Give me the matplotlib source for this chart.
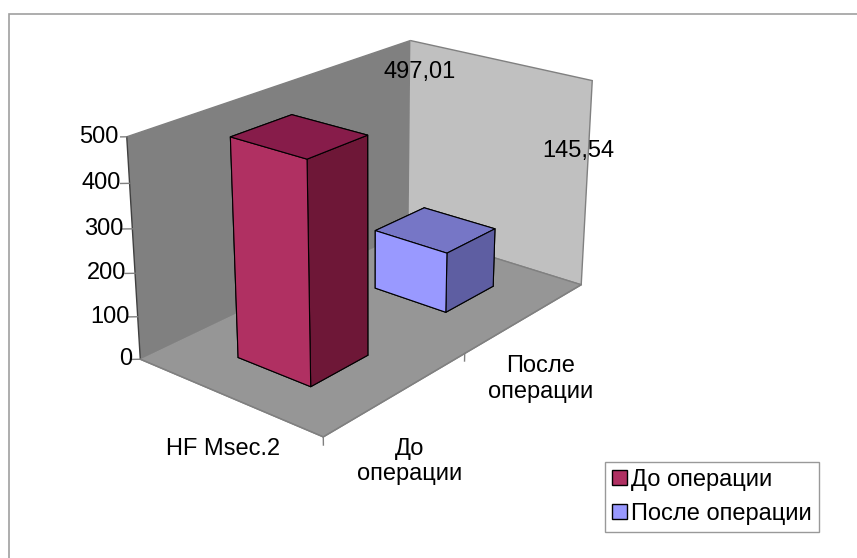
import matplotlib
matplotlib.use('Agg')
import matplotlib.pyplot as plt
from matplotlib.patches import Rectangle

plt.rcParams['font.family'] = ['Liberation Sans', 'DejaVu Sans']

category = 'HF Msec.2'
series = ['До операции', 'После операции']
series_ticks = ['До\nоперации', 'После\nоперации']
values = [497.01, 145.54]
value_labels = ['497,01', '145,54']
value_ticks = [0, 100, 200, 300, 400, 500]

front_colors = ['#B03062', '#9999FF']
top_colors = ['#871C4A', '#7676C6']
side_colors = ['#6E1737', '#5E5EA2']

fig = plt.figure(figsize=(8.57, 5.58), dpi=100)
fig.patches.append(Rectangle((9 / 857, -0.05), 1.0, (558 - 14) / 558 + 0.05,
                             transform=fig.transFigure, fill=False,
                             edgecolor='#A0A0A0', linewidth=1.2))

ax = fig.add_axes([0.046, 0.16, 0.76, 0.88], projection='3d')
ax.set_proj_type('persp', focal_length=0.6)
ax.view_init(elev=22, azim=-50.5)
ax.set_box_aspect((222, 396, 215), zoom=1.06)
ax.set_xlim(0, 1)
ax.set_ylim(0, 2)
ax.set_zlim(0, 500)
ax.patch.set_alpha(0)

# walls and floor
ax.xaxis.set_pane_color('#808080')
ax.yaxis.set_pane_color('#C0C0C0')
ax.zaxis.set_pane_color('#969696')
for axis in (ax.xaxis, ax.yaxis, ax.zaxis):
    axis.pane.set_edgecolor('#808080')
    axis.line.set_color((0, 0, 0, 0))
    axis.set_ticks([])
ax.grid(False)

# columns: one category along x, series along depth (y)
width = 0.4
for i, v in enumerate(values):
    face_colors = [front_colors[i], top_colors[i], front_colors[i],
                   front_colors[i], side_colors[i], side_colors[i]]
    ax.bar3d(0.5 - width / 2, i + 0.5 - width / 2, 0, width, width, v,
             color=face_colors, shade=False, edgecolor='black', linewidth=0.8)

# value axis
ax.plot([0, 0], [0, 0], [0, 500], color='#404040', lw=1)
for t in value_ticks:
    ax.plot([0, -0.03], [0, -0.03], [t, t], color='#808080', lw=1)
    ax.text(-0.025, -0.025, t, str(t), ha='right', va='center', fontsize=17)

# floor front edges with category ticks
ax.plot([0, 1], [0, 0], [0, 0], color='#808080', lw=1)
ax.plot([1, 1], [0, 2], [0, 0], color='#808080', lw=1)
ax.plot([1, 1], [1, 1], [0, -18], color='#808080', lw=1)
ax.plot([1, 1], [0, 0], [0, -18], color='#808080', lw=1)
ax.text(0.65, -0.2, -28, category, ha='center', va='top', fontsize=17)
for i, name in enumerate(series_ticks):
    ax.text(1.2, i + 0.3, -25, name, ha='center', va='top', fontsize=17,
            multialignment='center')

# data labels
ax.text(0.06, 2.0, 400, value_labels[0], ha='center', va='bottom', fontsize=17)
ax.text(0.95, 2.0, 300, value_labels[1], ha='center', va='bottom', fontsize=17)

handles = [Rectangle((0, 0), 1, 1, facecolor=c, edgecolor='black') for c in front_colors]
fig.legend(handles, series, loc='lower right', bbox_to_anchor=(831 / 857, (558 - 544) / 558),
           fontsize=17, frameon=True, fancybox=False, edgecolor='#808080',
           handlelength=0.6, handleheight=0.6, handletextpad=0.2, borderpad=0.3,
           labelspacing=0.5)

fig.savefig('out.png', dpi=100)
